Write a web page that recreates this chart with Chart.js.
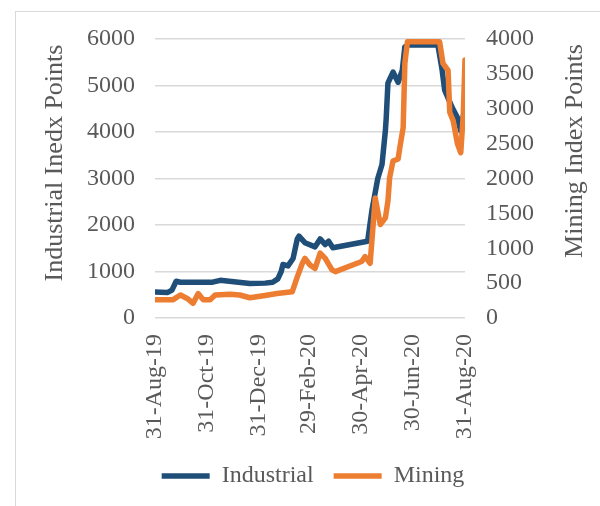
<!DOCTYPE html>
<html>
<head>
<meta charset="utf-8">
<script src="https://cdn.jsdelivr.net/npm/chart.js@4/dist/chart.umd.min.js"></script>
<style>
  html, body { margin: 0; padding: 0; background: #fff; overflow: hidden; }
  #cadre { position: absolute; left: 15px; top: 11px; width: 800px; height: 800px; border: 1.5px solid #d9d9d9; }
  #graph { position: absolute; left: 0; top: 0; }
</style>
</head>
<body>
<div id="cadre"></div>
<canvas id="graph" width="600" height="506"></canvas>
<script>
// Données
const industrialDates = [
    '2019-08-31', '2019-09-15', '2019-09-20', '2019-09-25', '2019-09-30', '2019-11-07', '2019-11-16',
    '2019-12-21', '2020-01-08', '2020-01-17', '2020-01-23', '2020-01-27', '2020-01-29', '2020-02-04',
    '2020-02-10', '2020-02-15', '2020-02-17', '2020-02-24', '2020-03-07', '2020-03-13', '2020-03-19',
    '2020-03-23', '2020-03-28', '2020-05-08', '2020-05-13', '2020-05-20', '2020-05-25', '2020-05-29',
    '2020-05-30', '2020-06-01', '2020-06-07', '2020-06-13', '2020-06-18', '2020-06-21', '2020-06-25',
    '2020-07-30', '2020-08-04', '2020-08-07', '2020-08-16', '2020-08-22', '2020-08-26', '2020-08-31'
];
const industrialValues = [
    560, 550, 600, 790, 770, 770, 810,
    740, 750, 770, 840, 1000, 1150, 1120,
    1280, 1700, 1760, 1620, 1530, 1700, 1580,
    1650, 1510, 1650, 2300, 3000, 3300, 4030,
    4300, 5050, 5290, 5070, 5330, 5830, 5870,
    5870, 5330, 4900, 4520, 4310, 4020, 4550
];

const miningDates = [
    '2019-08-31', '2019-09-21', '2019-09-30', '2019-10-08', '2019-10-15', '2019-10-21', '2019-10-27',
    '2019-11-04', '2019-11-10', '2019-11-28', '2019-12-09', '2019-12-21', '2020-01-06', '2020-01-22',
    '2020-02-09', '2020-02-15', '2020-02-21', '2020-02-24', '2020-03-01', '2020-03-07', '2020-03-13',
    '2020-03-19', '2020-03-27', '2020-03-31', '2020-05-01', '2020-05-05', '2020-05-11', '2020-05-17',
    '2020-05-23', '2020-05-29', '2020-06-01', '2020-06-03', '2020-06-07', '2020-06-13', '2020-06-15',
    '2020-06-19', '2020-06-21', '2020-06-24', '2020-08-01', '2020-08-05', '2020-08-11', '2020-08-13',
    '2020-08-17', '2020-08-22', '2020-08-26', '2020-08-29', '2020-08-31'
];
const miningValues = [
    260, 260, 330, 280, 210, 350, 260,
    260, 330, 340, 330, 290, 320, 350,
    375, 590, 785, 855, 760, 710, 930,
    855, 690, 665, 810, 880, 785, 1720,
    1340, 1435, 1675, 2010, 2250, 2280, 2440,
    2730, 3650, 3960, 3960, 3650, 3550, 2950,
    2830, 2500, 2370, 2930, 3700
];

const tickDates = ['2019-08-31', '2019-10-31', '2019-12-31', '2020-02-29', '2020-04-30', '2020-06-30', '2020-08-31'];

const START = Date.UTC(2019, 7, 31);
const DAY = 86400000;
const MONTHS = ['Jan', 'Feb', 'Mar', 'Apr', 'May', 'Jun', 'Jul', 'Aug', 'Sep', 'Oct', 'Nov', 'Dec'];
const FONT = '"Liberation Serif", "Times New Roman", serif';
const GREY = '#595959';

// Conversion date -> nombre de jours depuis le 31-Aug-19
function toDay(s) {
    const [y, m, d] = s.split('-').map(Number);
    return Math.round((Date.UTC(y, m - 1, d) - START) / DAY);
}

function dayLabel(v) {
    const d = new Date(START + v * DAY);
    return d.getUTCDate() + '-' + MONTHS[d.getUTCMonth()] + '-' + String(d.getUTCFullYear()).slice(2);
}

// Titres des axes (lus de bas en haut des deux côtés)
const axisTitles = {
    id: 'axisTitles',
    afterDraw(chart) {
        const ctx = chart.ctx;
        ctx.save();
        ctx.fillStyle = GREY;
        ctx.font = '26px ' + FONT;
        ctx.textAlign = 'center';
        ctx.textBaseline = 'alphabetic';
        [[62, 163, 'Industrial Inedx Points'], [582, 151, 'Mining Index Points']].forEach(([x, y, t]) => {
            ctx.save();
            ctx.translate(x, y);
            ctx.rotate(-Math.PI / 2);
            ctx.fillText(t, 0, 0);
            ctx.restore();
        });
        ctx.restore();
    }
};

document.addEventListener("DOMContentLoaded", function () {
    const ctx = document.getElementById('graph').getContext('2d');
    new Chart(ctx, {
        type: 'line',
        data: {
            datasets: [{
                label: 'Industrial',
                data: industrialDates.map((d, i) => ({ x: toDay(d), y: industrialValues[i] })),
                borderColor: '#1f4e79',
                backgroundColor: '#1f4e79',
                borderWidth: 5.5,
                borderCapStyle: 'round',
                borderJoinStyle: 'round',
                pointRadius: 0,
                pointStyle: 'line',
                tension: 0,
                yAxisID: 'y',
                order: 1
            }, {
                label: 'Mining',
                data: miningDates.map((d, i) => ({ x: toDay(d), y: miningValues[i] })),
                borderColor: '#ed7d31',
                backgroundColor: '#ed7d31',
                borderWidth: 5.5,
                borderCapStyle: 'round',
                borderJoinStyle: 'round',
                pointRadius: 0,
                pointStyle: 'line',
                tension: 0,
                yAxisID: 'y1',
                order: 0
            }]
        },
        options: {
            responsive: false,
            animation: false,
            layout: { padding: { top: 39, left: 26, right: 0, bottom: 8 } },
            scales: {
                x: {
                    type: 'linear',
                    min: 0,
                    max: toDay(tickDates[tickDates.length - 1]),
                    afterBuildTicks: scale => { scale.ticks = tickDates.map(d => ({ value: toDay(d) })); },
                    afterFit: scale => { scale.height = 126; },
                    grid: { display: false, drawTicks: false },
                    border: { display: false },
                    ticks: {
                        autoSkip: false,
                        minRotation: 90,
                        maxRotation: 90,
                        padding: 16,
                        color: GREY,
                        font: { family: FONT, size: 24 },
                        callback: v => dayLabel(v)
                    }
                },
                y: {
                    position: 'left',
                    min: 0,
                    max: 6000,
                    afterFit: scale => { scale.width = 129; },
                    grid: { color: '#d9d9d9', lineWidth: 1.5, drawTicks: false },
                    border: { display: false },
                    ticks: { stepSize: 1000, padding: 20, color: GREY, font: { family: FONT, size: 24 }, callback: v => String(v) }
                },
                y1: {
                    position: 'right',
                    min: 0,
                    max: 4000,
                    afterFit: scale => { scale.width = 135; },
                    grid: { display: false, drawTicks: false },
                    border: { display: false },
                    ticks: { stepSize: 500, padding: 21, color: GREY, font: { family: FONT, size: 24 }, callback: v => String(v) }
                }
            },
            plugins: {
                tooltip: { enabled: false },
                legend: {
                    position: 'bottom',
                    labels: {
                        usePointStyle: true,
                        pointStyleWidth: 48,
                        padding: 20,
                        color: GREY,
                        font: { family: FONT, size: 24 },
                        sort: (a, b) => a.datasetIndex - b.datasetIndex
                    }
                }
            }
        },
        plugins: [axisTitles]
    });
});
</script>
</body>
</html>
